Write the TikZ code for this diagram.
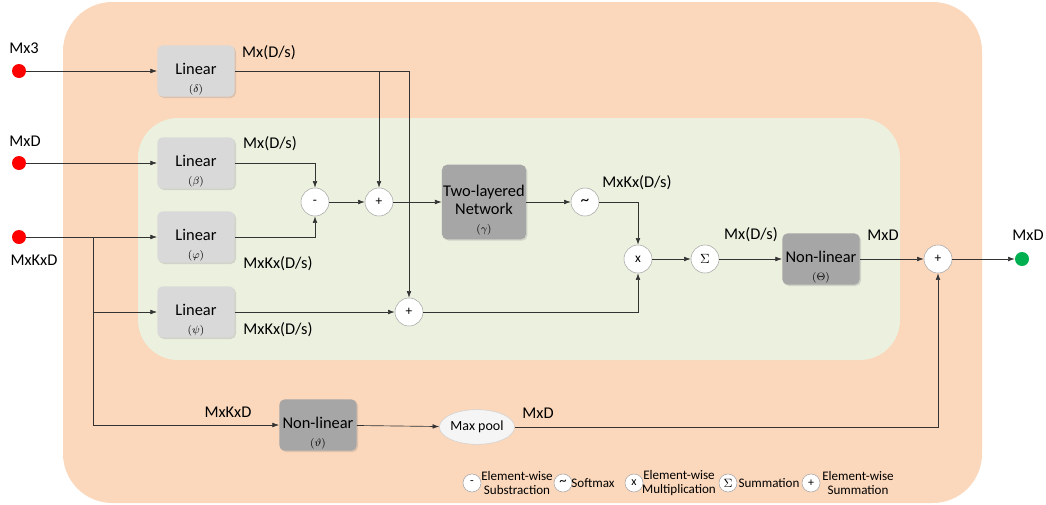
\documentclass[tikz,border=0pt]{standalone}
\usepackage{fontspec}
\setmainfont{Carlito}
\usetikzlibrary{shapes, arrows.meta, shadows}

\definecolor{outerbg}{HTML}{FBD7BB}
\definecolor{innerbg}{HTML}{EBF0DF}
\definecolor{boxlight}{HTML}{D9D9D9}
\definecolor{boxdark}{HTML}{A6A6A6}
\definecolor{dotred}{HTML}{FF0000}
\definecolor{dotgreen}{HTML}{00B050}
\newcommand{\subfs}{\fontsize{8.5}{9}\selectfont}
\newcommand{\boxpad}{\rule{0pt}{21pt}}

\begin{document}
\begin{tikzpicture}[x=0.75pt, y=-0.75pt,
		font=\fontsize{12.3}{13.5}\selectfont,
		>={Latex[length=5pt,width=3.5pt]},
		line/.style={draw=black!80, line width=0.5pt},
		linbox/.style={rectangle, rounded corners=4pt, fill=boxlight, draw=none,
			minimum width=58pt, minimum height=37pt, align=center, inner sep=1pt,
			drop shadow={opacity=0.25, shadow xshift=1pt, shadow yshift=-1pt}},
		darkbox/.style={linbox, fill=boxdark},
		opnode/.style={circle, draw=gray!70, fill=white, minimum size=21pt, inner sep=0pt,
			font=\fontsize{10}{11}\selectfont},
		keynode/.style={opnode, minimum size=13.5pt, font=\fontsize{9}{10}\selectfont},
		keytext/.style={align=center, font=\fontsize{9.8}{11}\selectfont},
		indot/.style={circle, fill=dotred, draw=none, minimum size=10.5pt, inner sep=0pt}]
		\useasboundingbox (0,0) rectangle (1046,504);
		% regions
		\fill[outerbg, rounded corners=37pt] (63,2) rectangle (982,503);
		\fill[innerbg, rounded corners=30pt] (138,118) rectangle (900,360);

		% inputs
		\node[indot] (in1) at (19,71) {};
		\node[indot] (in2) at (19,163) {};
		\node[indot] (in3) at (19,237) {};
		\node (t-in1) at (24,48) {Mx3};
		\node (t-in2) at (25,141) {MxD};
		\node (t-in3) at (34,260) {MxKxD};
		\coordinate (split) at (93,237);

		% linear layers
		\node[linbox] (lin-d) at (196,71) {\boxpad Linear\\{\subfs$(\delta)$}};
		\node[linbox] (lin-b) at (196,163) {\boxpad Linear\\{\subfs$(\beta)$}};
		\node[linbox] (lin-p) at (196,237) {\boxpad Linear\\{\subfs$(\varphi)$}};
		\node[linbox] (lin-s) at (196,312) {\boxpad Linear\\{\subfs$(\psi)$}};
		\node (t-d) at (269,53) {Mx(D/s)};
		\node (t-b) at (270,144) {Mx(D/s)};
		\node (t-p) at (278,264) {MxKx(D/s)};
		\node (t-s) at (278,330) {MxKx(D/s)};

		% operations
		\node[opnode] (diff) at (315,202) {-};
		\node[opnode] (sum-up) at (379,202) {+};
		\node[opnode] (sum-low) at (409,312) {+};
		\node[darkbox, minimum height=56pt] (net) at (484,202) {\boxpad Two-layered\\Network\\{\subfs$(\gamma)$}};
		\node[opnode, font=\fontsize{13}{13}\selectfont] (soft) at (585,202) {\textasciitilde};
		\node (t-soft) at (637,183) {MxKx(D/s)};
		\node[opnode] (mul) at (638,259) {x};
		\node[opnode] (sigma) at (705,259) {$\Sigma$};
		\node (t-sigma) at (751,235) {Mx(D/s)};
		\node[darkbox] (nl-big) at (821,259) {\boxpad Non-linear\\{\subfs$(\Theta)$}};
		\node (t-big) at (883,235) {MxD};
		\node[opnode] (sum-out) at (938,259) {+};
		\node[circle, fill=dotgreen, draw=none, minimum size=10.5pt, inner sep=0pt] (out) at (1022,259) {};
		\node (t-out) at (1028,235) {MxD};

		% lower branch
		\node[darkbox] (nl-t) at (318,425) {\boxpad Non-linear\\{\subfs$(\vartheta)$}};
		\node (t-nl) at (228,412) {MxKxD};
		\node[ellipse, fill=gray!8, draw=gray!35, minimum width=55pt, minimum height=26pt,
			inner sep=0pt, font=\fontsize{10.5}{11}\selectfont] (pool) at (477,427) {Max pool};
		\node (t-pool) at (538,413) {MxD};

		% connectors
		\draw[line, ->] (in1) -- (lin-d);
		\draw[line, ->] (in2) -- (lin-b);
		\draw[line, ->] (in3) -- (lin-p);
		\draw[line, ->] (split) |- (lin-s);
		\draw[line, ->] (split) |- (nl-t);
		\draw[line, ->] (lin-d.east) -| (sum-low);
		\draw[line, ->] (lin-d.east -| sum-up) -- (sum-up);
		\draw[line, ->] (lin-b.east) -| (diff);
		\draw[line, ->] (lin-p.east) -| (diff);
		\draw[line, ->] (diff) -- (sum-up);
		\draw[line, ->] (sum-up) -- (net);
		\draw[line, ->] (net) -- (soft);
		\draw[line, ->] (soft) -| (mul);
		\draw[line, ->] (lin-s) -- (sum-low);
		\draw[line, ->] (sum-low) -| (mul);
		\draw[line, ->] (mul) -- (sigma);
		\draw[line, ->] (sigma) -- (nl-big);
		\draw[line, ->] (nl-big) -- (sum-out);
		\draw[line, ->] (sum-out) -- (out);
		\draw[line, ->] (nl-t) -- (pool);
		\draw[line, ->] (pool) -| (sum-out);

		% legend
		\node[keynode] (k-diff) at (472,483) {-};
		\node[keytext] (k-diff-t) at (517,483) {Element-wise\\Substraction};
		\node[keynode, font=\fontsize{11}{11}\selectfont] (k-soft) at (563,483) {\textasciitilde};
		\node[keytext] (k-soft-t) at (593,483) {Softmax};
		\node[keynode] (k-mul) at (634,483) {x};
		\node[keytext] (k-mul-t) at (679,483) {Element-wise\\Multiplication};
		\node[keynode] (k-sigma) at (728,483) {$\Sigma$};
		\node[keytext] (k-sigma-t) at (769,483) {Summation};
		\node[keynode] (k-sum) at (811,483) {+};
		\node[keytext] (k-sum-t) at (858,483) {Element-wise\\Summation};
	\end{tikzpicture}
\end{document}
